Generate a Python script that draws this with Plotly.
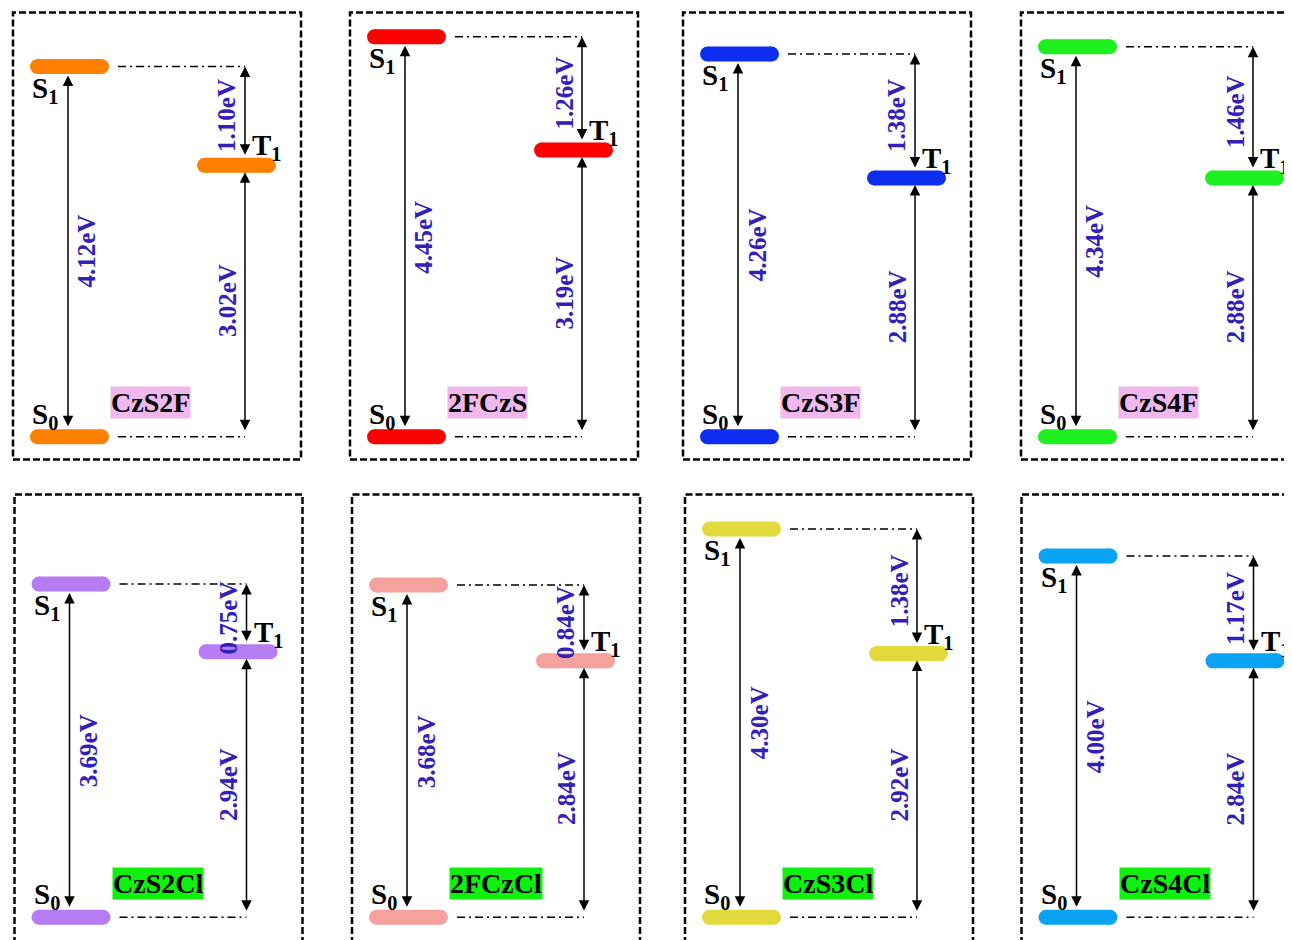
import plotly.graph_objects as go

# ---------------- data ----------------
names = ["CzS2F", "2FCzS", "CzS3F", "CzS4F", "CzS2Cl", "2FCzCl", "CzS3Cl", "CzS4Cl"]
s1_ev = [4.12, 4.45, 4.26, 4.34, 3.69, 3.68, 4.30, 4.00]
t1_ev = [3.02, 3.19, 2.88, 2.88, 2.94, 2.84, 2.92, 2.84]
st_gap_ev = [1.10, 1.26, 1.38, 1.46, 0.75, 0.84, 1.38, 1.17]
level_colors = ["#ff8000", "#ff0000", "#0d2ef0", "#1eef1e",
                "#b67cf2", "#f5a19d", "#e2d93c", "#0aa2f2"]
name_bg = ["#f0b8ec"] * 4 + ["#0ff00f"] * 4

# ---------------- geometry (styling only) ----------------
OFF = 8                      # page body margin of the html page
W, H = 1292 - OFF, 940 - OFF # figure size so that it ends at the window edge
BOX_W = 288.0
rows = [
    dict(top=12.5, bottom=459.5, s0=436.7, ppe=89.85, lefts=[13, 350, 683, 1021]),
    dict(top=494.5, bottom=946.0, s0=917.3, ppe=90.3, lefts=[14.5, 352, 685, 1021.5]),
]
LABEL_BLUE = "#3220b8"
FONT = "Liberation Serif"
BAR_W = 15

fig = go.Figure()
layout = dict(width=W, height=H, margin=dict(l=0, r=0, t=0, b=0, pad=0),
              paper_bgcolor="white", plot_bgcolor="rgba(0,0,0,0)",
              showlegend=False)
annotations = []
shapes = []

for i, name in enumerate(names):
    r, c = divmod(i, 4)
    row = rows[r]
    L = row["lefts"][c] - OFF
    R = L + BOX_W
    Rv = min(R, W)
    top = row["top"] - OFF
    bot = row["bottom"] - OFF
    s0px = row["s0"] - OFF
    bot_v = min(bot, H)
    k = "" if i == 0 else str(i + 1)
    xr, yr = "x" + k, "y" + k
    layout["xaxis" + k] = dict(domain=[L / W, Rv / W], range=[0, (Rv - L) / BOX_W],
                               visible=False, fixedrange=True, anchor=yr)
    layout["yaxis" + k] = dict(domain=[1 - bot_v / H, 1 - top / H],
                               range=[(s0px - bot_v) / row["ppe"],
                                      (s0px - top) / row["ppe"]],
                               visible=False, fixedrange=True, anchor=xr)
    # dashed frame
    shapes.append(dict(type="rect", xref="paper", yref="paper",
                       x0=L / W, x1=R / W, y0=1 - bot / H, y1=1 - top / H,
                       line=dict(color="black", width=2.5, dash="7px,3px"),
                       fillcolor="rgba(0,0,0,0)", layer="below"))

    s1, t1 = s1_ev[i], t1_ev[i]
    col = level_colors[i]
    px = 1.0 / BOX_W
    ev = 1.0 / row["ppe"]

    x_arrow_l = 55 * px
    x_arrow_r = 232 * px

    # dash-dot connectors
    for lev in (s1, 0.0):
        fig.add_trace(go.Scatter(x=[105 * px, x_arrow_r], y=[lev, lev], xaxis=xr, yaxis=yr,
                                 mode="lines", hoverinfo="skip",
                                 line=dict(color="black", width=1.5, dash="8px,4px,2px,4px")))
    # energy levels (pill bars)
    for (xa, xb), lev in (((17, 96), s1), ((17, 96), 0.0), ((184, 263), t1)):
        fig.add_trace(go.Scatter(x=[(xa + 7.5) * px, (xb - 7.5) * px], y=[lev, lev],
                                 xaxis=xr, yaxis=yr, mode="lines+markers", hoverinfo="skip",
                                 line=dict(color=col, width=BAR_W),
                                 marker=dict(color=col, size=BAR_W, line=dict(width=0))))

    def arrow(x, y_from, y_to):
        return dict(x=x, y=y_to, ax=x, ay=y_from, xref=xr, yref=yr, axref=xr, ayref=yr,
                    text="", showarrow=True, arrowside="end+start",
                    arrowhead=2, startarrowhead=2, arrowsize=1.4, startarrowsize=1.4,
                    arrowwidth=1.5, arrowcolor="black", standoff=0, startstandoff=0)

    annotations.append(arrow(x_arrow_l, 9 * ev, s1 - 9 * ev))
    annotations.append(arrow(x_arrow_r, t1 + 9 * ev, s1))
    annotations.append(arrow(x_arrow_r, 5 * ev, t1 - 7 * ev))

    def elabel(x, y, val):
        return dict(x=x, y=y, xref=xr, yref=yr, text=f"{val:.2f}eV", textangle=-90,
                    showarrow=False, xanchor="center", yanchor="middle",
                    font=dict(family=FONT, size=25, color=LABEL_BLUE, weight="bold"))

    annotations.append(elabel(74 * px, s1 / 2, s1))
    annotations.append(elabel(214 * px, t1 / 2, t1))
    annotations.append(elabel(214 * px, (s1 + t1) / 2, st_gap_ev[i]))

    sfont = dict(family=FONT, size=29, color="black", weight="bold")
    annotations.append(dict(x=17 * px, y=s1 - 23 * ev, xref=xr, yref=yr, text="S<sub>1</sub>",
                            showarrow=False, xanchor="left", yanchor="middle", font=sfont))
    annotations.append(dict(x=17 * px, y=21 * ev, xref=xr, yref=yr, text="S<sub>0</sub>",
                            showarrow=False, xanchor="left", yanchor="middle", font=sfont))
    annotations.append(dict(x=237 * px, y=t1 + 18 * ev, xref=xr, yref=yr, text="T<sub>1</sub>",
                            showarrow=False, xanchor="left", yanchor="middle", font=sfont))
    annotations.append(dict(x=97 * px, y=34 * ev, xref=xr, yref=yr, text=name,
                            showarrow=False, xanchor="left", yanchor="middle",
                            bgcolor=name_bg[i], borderpad=0,
                            font=dict(family=FONT, size=28, color="black", weight="bold")))

layout["annotations"] = annotations
layout["shapes"] = shapes
fig.update_layout(**layout)
fig.write_html("out.html")
